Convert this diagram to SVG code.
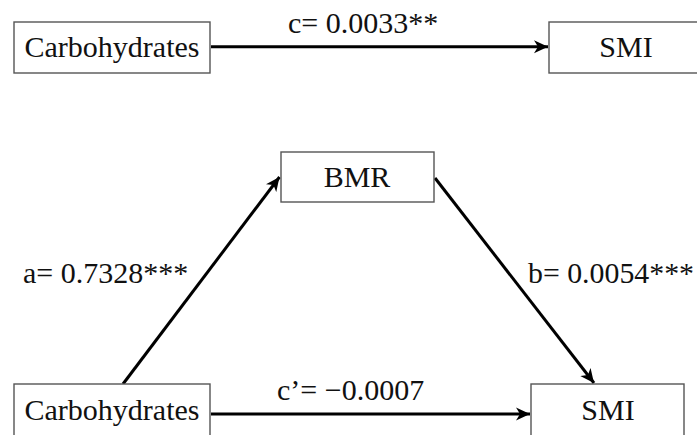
<svg xmlns="http://www.w3.org/2000/svg" width="697" height="435" viewBox="0 0 697 435">
  <defs>
    <style>
      .box { fill: #ffffff; stroke: #555555; stroke-width: 1.4; }
      .lbl { font-family: "Liberation Serif", "Times New Roman", serif; font-size: 30px; fill: #111111; }
      .edge { stroke: #000000; stroke-width: 3; fill: none; }
    </style>
    <marker id="arr" markerUnits="userSpaceOnUse" markerWidth="16" markerHeight="14" refX="14" refY="7" orient="auto">
      <path d="M0,0.5 L14,7 L0,13.5 L4,7 Z" fill="#000000"/>
    </marker>
  </defs>
  <rect width="697" height="435" fill="#ffffff"/>

  <g id="connectors">
    <line class="edge" x1="211" y1="46.7" x2="548" y2="46.7" marker-end="url(#arr)"/>
    <line class="edge" x1="123" y1="384" x2="279.5" y2="177" marker-end="url(#arr)"/>
    <line class="edge" x1="435" y1="178" x2="594" y2="383" marker-end="url(#arr)"/>
    <line class="edge" x1="211" y1="414" x2="530" y2="414" marker-end="url(#arr)"/>
    <text class="lbl" x="288" y="33">c= 0.0033**</text>
    <text class="lbl" x="23" y="283">a= 0.7328***</text>
    <text class="lbl" x="528" y="283" textLength="166" lengthAdjust="spacingAndGlyphs">b= 0.0054***</text>
    <text class="lbl" x="277" y="400">c’= −0.0007</text>
  </g>

  <g id="carb-top">
    <rect class="box" x="14" y="22" width="196" height="51"/>
    <text class="lbl" x="112" y="57" text-anchor="middle">Carbohydrates</text>
  </g>
  <g id="smi-top">
    <rect class="box" x="549" y="22" width="154" height="51"/>
    <text class="lbl" x="626" y="57" text-anchor="middle">SMI</text>
  </g>
  <g id="bmr">
    <rect class="box" x="281" y="152" width="153" height="50"/>
    <text class="lbl" x="357" y="187" text-anchor="middle">BMR</text>
  </g>
  <g id="carb-bottom">
    <rect class="box" x="14" y="384" width="196" height="53"/>
    <text class="lbl" x="112" y="420" text-anchor="middle">Carbohydrates</text>
  </g>
  <g id="smi-bottom">
    <rect class="box" x="531" y="384" width="153" height="53"/>
    <text class="lbl" x="608" y="420" text-anchor="middle">SMI</text>
  </g>
</svg>
